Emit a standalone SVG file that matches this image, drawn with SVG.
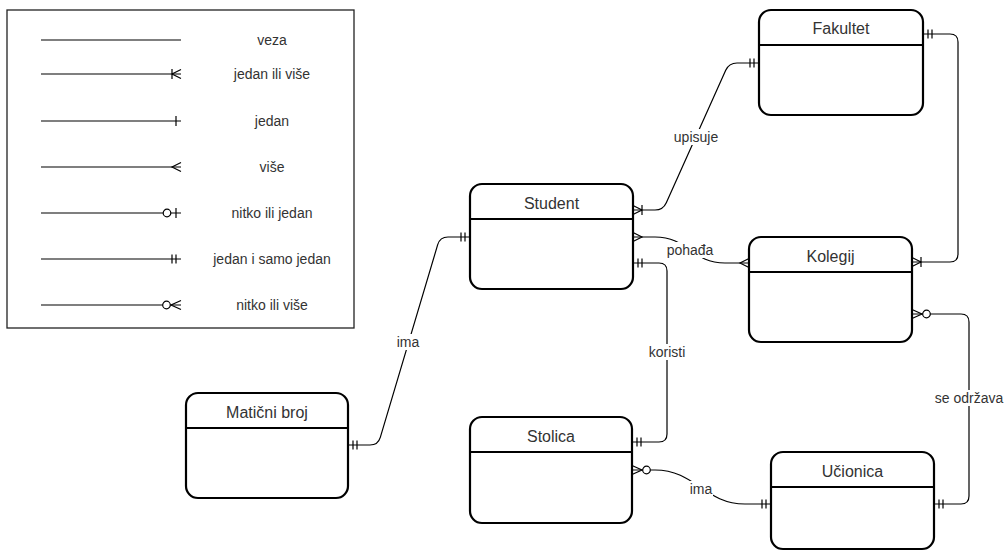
<svg xmlns="http://www.w3.org/2000/svg" width="1007" height="553" viewBox="0 0 1007 553">
<style>
.box{fill:#fff;stroke:#000;stroke-width:2.2}
.hdr{stroke:#000;stroke-width:2.2}
.title{font-family:"Liberation Sans",Arial,sans-serif;font-size:16px;fill:#333;text-anchor:middle}
.lbl{font-family:"Liberation Sans",Arial,sans-serif;font-size:14px;fill:#333;text-anchor:middle}
.edge{fill:none;stroke:#000;stroke-width:1.2}
.lblbg{fill:#fff}
.m{fill:none;stroke:#000;stroke-width:1.2}
.mc{fill:#fff;stroke:#000;stroke-width:1.2}
</style>
<defs>
<marker id="mOne" markerUnits="userSpaceOnUse" markerWidth="30" markerHeight="30" refX="0" refY="0" orient="auto-start-reverse" overflow="visible">
<path class="m" d="M-5,-5V5"/>
</marker>
<marker id="mMandOne" markerUnits="userSpaceOnUse" markerWidth="30" markerHeight="30" refX="0" refY="0" orient="auto-start-reverse" overflow="visible">
<path class="m" d="M-5,-4.5V4.5M-9,-4.5V4.5"/>
</marker>
<marker id="mMany" markerUnits="userSpaceOnUse" markerWidth="30" markerHeight="30" refX="0" refY="0" orient="auto-start-reverse" overflow="visible">
<path class="m" d="M0,-4.5L-9,0L0,4.5"/>
</marker>
<marker id="mOneMany" markerUnits="userSpaceOnUse" markerWidth="30" markerHeight="30" refX="0" refY="0" orient="auto-start-reverse" overflow="visible">
<path class="m" d="M0,-4.5L-9,0L0,4.5M-9,-5V5"/>
</marker>
<marker id="mZeroMany" markerUnits="userSpaceOnUse" markerWidth="30" markerHeight="30" refX="0" refY="0" orient="auto-start-reverse" overflow="visible">
<path class="m" d="M0,-4.5L-10,0L0,4.5"/>
<circle class="mc" cx="-14.5" cy="0" r="3.8"/>
</marker>
<marker id="mZeroOne" markerUnits="userSpaceOnUse" markerWidth="30" markerHeight="30" refX="0" refY="0" orient="auto-start-reverse" overflow="visible">
<path class="m" d="M-5,-5V5"/>
<circle class="mc" cx="-14" cy="0" r="3.8"/>
</marker>
</defs>
<rect width="1007" height="553" fill="#fff"/>

<g id="legend">
<rect x="7" y="10" width="347" height="318" fill="#fff" stroke="#222" stroke-width="1.3"/>
<path class="edge" d="M41,40H181"/>
<text class="lbl" x="272" y="45">veza</text>
<path class="edge" d="M41,74H181" marker-end="url(#mOneMany)"/>
<text class="lbl" x="272" y="79">jedan ili više</text>
<path class="edge" d="M41,121H181" marker-end="url(#mOne)"/>
<text class="lbl" x="272" y="126">jedan</text>
<path class="edge" d="M41,167H181" marker-end="url(#mMany)"/>
<text class="lbl" x="272" y="172">više</text>
<path class="edge" d="M41,213H181" marker-end="url(#mZeroOne)"/>
<text class="lbl" x="272" y="218">nitko ili jedan</text>
<path class="edge" d="M41,259H181" marker-end="url(#mMandOne)"/>
<text class="lbl" x="272" y="264">jedan i samo jedan</text>
<path class="edge" d="M41,305H181" marker-end="url(#mZeroMany)"/>
<text class="lbl" x="272" y="310">nitko ili više</text>
</g>

<g id="connectors">
<path class="edge" d="M633,210H655Q663,210 666.3,202.7L725.7,70.3Q729,63 737,63H759" marker-start="url(#mOneMany)" marker-end="url(#mMandOne)"/>
<path class="edge" d="M633,237H655C688,237 692,263 725,263H749" marker-start="url(#mMany)" marker-end="url(#mMany)"/>
<path class="edge" d="M633,263H659Q667,263 667,271V434Q667,442 659,442H632" marker-start="url(#mMandOne)" marker-end="url(#mMandOne)"/>
<path class="edge" d="M348,445H370Q378,445 380.3,437.3L437.7,244.7Q440,237 448,237H470" marker-start="url(#mMandOne)" marker-end="url(#mMandOne)"/>
<path class="edge" d="M923,34H950Q958,34 958,42V254Q958,262 950,262H912" marker-start="url(#mMandOne)" marker-end="url(#mOneMany)"/>
<path class="edge" d="M912,314H961Q969,314 969,322V496Q969,504 961,504H934" marker-start="url(#mZeroMany)" marker-end="url(#mMandOne)"/>
<path class="edge" d="M632,470H655C695,470 705,504 745,504H771" marker-start="url(#mZeroMany)" marker-end="url(#mMandOne)"/>
<rect class="lblbg" x="673" y="129" width="46" height="16"/>
<text class="lbl" x="696" y="142">upisuje</text>
<rect class="lblbg" x="667" y="242" width="46" height="16"/>
<text class="lbl" x="690" y="255">pohađa</text>
<rect class="lblbg" x="645" y="344" width="44" height="16"/>
<text class="lbl" x="667" y="357">koristi</text>
<rect class="lblbg" x="396" y="334" width="24" height="16"/>
<text class="lbl" x="408" y="347">ima</text>
<rect class="lblbg" x="689" y="481" width="24" height="16"/>
<text class="lbl" x="701" y="494">ima</text>
<rect class="lblbg" x="935" y="390" width="68" height="16"/>
<text class="lbl" x="969" y="403">se održava</text>
</g>

<g id="fakultet">
<rect class="box" x="759" y="10" width="164" height="105" rx="12"/>
<path class="hdr" d="M759,45H923"/>
<text class="title" x="841" y="34">Fakultet</text>
</g>
<g id="student">
<rect class="box" x="470" y="184" width="163" height="105" rx="12"/>
<path class="hdr" d="M470,219H633"/>
<text class="title" x="551.5" y="209">Student</text>
</g>
<g id="kolegij">
<rect class="box" x="749" y="237" width="163" height="105" rx="12"/>
<path class="hdr" d="M749,272H912"/>
<text class="title" x="830.5" y="262">Kolegij</text>
</g>
<g id="maticni-broj">
<rect class="box" x="186" y="393" width="162" height="105" rx="12"/>
<path class="hdr" d="M186,428H348"/>
<text class="title" x="267" y="418">Matični broj</text>
</g>
<g id="stolica">
<rect class="box" x="470" y="417" width="162" height="106" rx="12"/>
<path class="hdr" d="M470,452H632"/>
<text class="title" x="551" y="442">Stolica</text>
</g>
<g id="ucionica">
<rect class="box" x="771" y="452" width="163" height="97" rx="12"/>
<path class="hdr" d="M771,487H934"/>
<text class="title" x="852.5" y="477">Učionica</text>
</g>
</svg>
